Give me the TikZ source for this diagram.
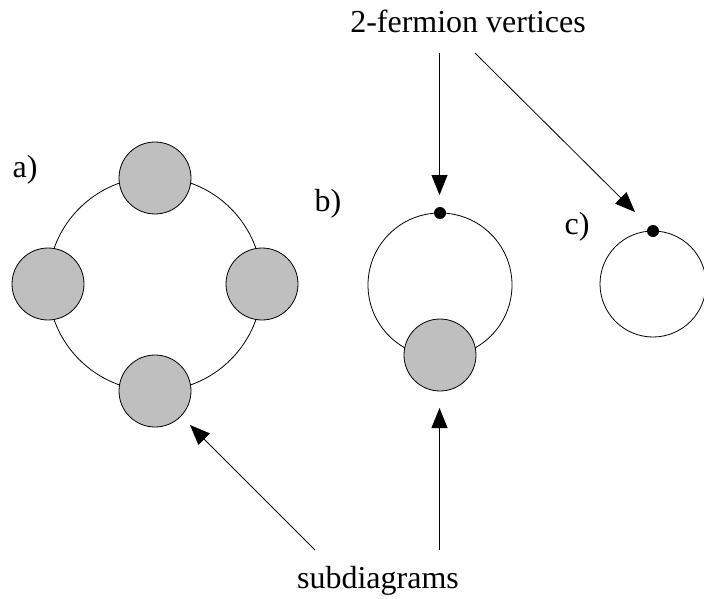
\documentclass[tikz,border=0pt]{standalone}
\usepackage{fontspec}
\setmainfont{Liberation Serif}
\usetikzlibrary{arrows.meta}
\begin{document}
\begin{tikzpicture}[x=1pt,y=-1pt,
  loop/.style={draw=black,line width=0.8pt},
  blob/.style={circle,draw=black,line width=0.8pt,fill=black!25,minimum size=72pt,inner sep=0pt},
  vdot/.style={circle,fill=black,minimum size=12pt,inner sep=0pt},
  lbl/.style={anchor=base,font=\fontsize{32}{38}\selectfont,inner sep=0pt},
  pointer/.style={line width=0.8pt,-{Triangle[length=20pt,width=16pt]}}]
\useasboundingbox (0,0) rectangle (704,599);
% a)
\draw[loop] (155,284) circle (107);
\node[blob] (at) at (155,178) {};
\node[blob] (al) at (48,284) {};
\node[blob] (ar) at (262,284) {};
\node[blob] (ab) at (155,391) {};
\node[lbl] (la) at (25,177) {a)};
% b)
\draw[loop] (440,285) circle (72);
\node[vdot] (bd) at (440,213) {};
\node[blob] (bb) at (440,355) {};
\node[lbl] (lb) at (328,211) {b)};
% c)
\draw[loop] (653,284) circle (53);
\node[vdot] (cd) at (653,231) {};
\node[lbl] (lc) at (577,234) {c)};
% labels
\node[lbl] (ferm) at (468,33) {2-fermion vertices};
\node[lbl] (sub) at (378,588) {subdiagrams};
% arrows
\coordinate (f1) at (439.5,53);
\coordinate (f1e) at (439.5,195);
\coordinate (f2) at (475,53);
\coordinate (f2e) at (635,212);
\coordinate (s1) at (315,550);
\coordinate (s1e) at (190,425);
\coordinate (s2) at (439.5,550);
\coordinate (s2e) at (439.5,408);
\draw[pointer] (f1) -- (f1e);
\draw[pointer] (f2) -- (f2e);
\draw[pointer] (s1) -- (s1e);
\draw[pointer] (s2) -- (s2e);
\end{tikzpicture}
\end{document}
